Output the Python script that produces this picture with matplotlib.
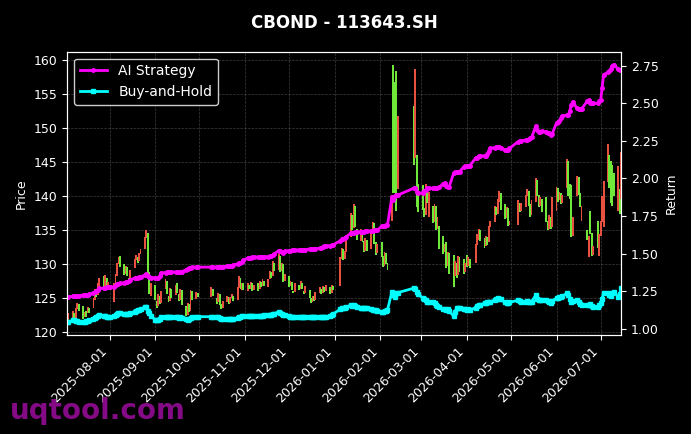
import matplotlib
matplotlib.use("Agg")
import matplotlib.pyplot as plt
import matplotlib.dates as mdates
import numpy as np
import pandas as pd

# ---- trading calendar (SH exchange, 2025-07-03 .. 2026-07-15) ----
holidays = [
    "2025-10-01", "2025-10-02", "2025-10-03", "2025-10-06", "2025-10-07", "2025-10-08",
    "2026-01-01", "2026-01-02",
    "2026-02-16", "2026-02-17", "2026-02-18", "2026-02-19", "2026-02-20", "2026-02-23",
    "2026-04-06", "2026-05-01", "2026-05-04", "2026-05-05", "2026-06-19",
]

# ---- daily open / close (one row per month) ----
open_px = [
    122.6, 121.6, 122.0, 122.8, 122.0, 123.4, 124.1, 123.8, 122.2, 123.2, 122.8, 123.6, 123.5, 124.8, 126.0, 125.5, 126.8, 128.2, 126.6, 128.0, 126.2,
    127.0, 124.5, 127.2, 128.3, 130.0, 131.2, 130.0, 128.6, 129.6, 128.0, 127.8, 129.4, 130.6, 131.0, 130.4, 131.5, 132.2, 133.8, 134.6, 128.8, 125.4,
    127.0, 124.6, 123.8, 125.4, 124.3, 126.4, 127.5, 125.4, 124.6, 126.3, 125.5, 127.2, 125.6, 124.8, 126.2, 123.8, 122.6, 124.2, 123.2, 126.0, 124.9, 125.8,
    125.2, 126.4, 125.0, 124.5, 125.6, 124.1, 123.6, 124.4, 125.2, 124.3, 125.0, 125.4, 124.8, 126.5, 128.0, 126.2, 127.2,
    126.0, 127.0, 126.4, 127.2, 126.2, 127.2, 126.3, 127.4, 126.8, 127.6, 126.6, 127.8, 128.8, 128.2, 130.2, 129.2, 131.2, 129.0, 130.0, 127.6,
    128.3, 126.8, 127.4, 126.0, 125.9, 127.0, 126.4, 127.3, 126.1, 125.8, 126.2, 125.1, 124.5, 125.3, 124.8, 125.8, 126.4, 125.7, 126.6, 126.0, 126.6, 125.8, 126.8,
    126.8, 130.8, 132.2, 130.8, 131.8, 134.0, 137.2, 135.3, 138.5, 135.2, 133.4, 135.0, 133.4, 132.0, 133.6, 132.2, 134.6, 136.0, 133.2, 131.6,
    133.2, 131.2, 129.8, 131.6, 130.2, 136.4, 159.2, 156.8, 158.3, 141.0, 153.2, 145.6, 146.0, 141.8,
    141.6, 138.2, 137.2, 141.4, 137.0, 138.6, 136.2, 138.6, 135.2, 135.6, 134.2, 131.8, 133.2, 129.8, 131.6, 131.4, 128.2, 130.2, 128.4, 131.0, 130.8, 128.8,
    131.4, 129.8, 130.8, 130.2, 132.8, 133.6, 135.0, 133.8, 132.6, 134.0, 133.2, 135.4, 136.2, 138.4, 137.4, 139.2, 140.4, 138.8, 136.8, 138.2, 135.8,
    135.8, 139.0, 137.8, 138.4, 140.0, 140.8, 138.8, 137.2, 139.2, 142.4, 140.2, 138.6, 139.6, 139.8, 136.4, 135.2, 137.0, 135.4,
    137.8, 141.2, 139.4, 140.4, 139.0, 141.2, 145.2, 141.8, 141.6, 134.2, 140.0, 142.8, 140.4, 136.4, 135.0, 131.0, 137.8, 134.6, 131.4, 136.4, 131.2,
    134.2, 136.2, 135.4, 142.0, 146.0, 145.2, 144.6, 143.4, 137.8, 141.0, 139.6,
]
close_px = [
    121.8, 122.9, 123.1, 121.7, 123.6, 124.3, 123.2, 121.9, 123.0, 122.3, 123.7, 122.9, 125.0, 126.3, 125.2, 127.2, 128.0, 126.4, 128.4, 126.5, 127.4,
    126.2, 127.3, 128.5, 130.2, 131.0, 129.6, 128.4, 129.8, 128.2, 127.6, 129.2, 130.8, 131.3, 130.2, 131.6, 132.3, 134.0, 135.0, 128.5, 125.6, 127.3,
    124.8, 123.6, 125.6, 124.2, 126.0, 127.8, 125.6, 124.5, 126.5, 125.1, 127.0, 125.8, 124.6, 126.4, 124.0, 122.4, 124.3, 123.0, 126.2, 124.8, 125.9, 125.2,
    126.6, 125.3, 124.2, 125.8, 124.0, 123.4, 124.6, 125.4, 124.1, 125.2, 125.6, 124.6, 126.6, 128.2, 126.4, 127.3, 126.2,
    127.2, 126.3, 127.4, 126.0, 127.0, 126.1, 127.6, 126.6, 127.8, 126.8, 127.9, 129.0, 128.0, 130.4, 129.0, 131.5, 128.8, 130.2, 127.4, 128.5,
    126.6, 127.6, 126.2, 125.8, 127.2, 126.2, 127.5, 126.3, 125.6, 126.8, 125.0, 124.3, 125.4, 124.6, 125.9, 126.6, 125.6, 126.8, 125.9, 126.9, 125.6, 127.0, 126.2,
    131.0, 132.4, 130.6, 132.0, 133.6, 137.5, 135.0, 138.8, 135.5, 133.6, 135.2, 133.2, 131.8, 133.8, 132.0, 134.8, 136.2, 133.0, 131.4, 133.0,
    131.0, 129.6, 131.8, 130.0, 129.2, 140.2, 140.5, 140.4, 137.8, 151.8, 144.6, 158.6, 138.4, 137.6,
    138.0, 137.0, 141.8, 139.0, 140.6, 136.0, 138.8, 135.0, 137.0, 132.2, 131.5, 133.0, 129.5, 131.8, 128.6, 126.6, 130.4, 128.0, 131.2, 128.8, 128.6, 130.2,
    129.6, 131.0, 129.4, 133.0, 134.4, 135.2, 133.4, 132.4, 134.2, 132.8, 135.6, 136.4, 138.6, 137.2, 139.6, 140.8, 138.0, 136.6, 138.4, 135.6, 136.4,
    139.4, 137.6, 139.0, 140.2, 141.0, 138.6, 137.0, 139.4, 142.6, 140.0, 138.4, 139.8, 137.6, 136.2, 135.0, 137.2, 135.2, 139.8,
    141.4, 139.2, 140.6, 138.8, 140.2, 145.4, 140.0, 139.6, 134.0, 137.0, 143.0, 140.2, 138.4, 138.6, 133.6, 134.2, 134.4, 131.2, 132.6, 132.4, 134.4,
    136.4, 140.0, 142.2, 147.6, 141.2, 139.0, 138.6, 140.0, 144.4, 137.4, 146.4,
]

# ---- cumulative return curves ----
strategy_ret = [
    1.213, 1.213, 1.215, 1.215, 1.218, 1.218, 1.220, 1.222, 1.222, 1.224, 1.224, 1.228, 1.240, 1.246, 1.252, 1.260, 1.268, 1.270, 1.272, 1.275, 1.277,
    1.277, 1.280, 1.288, 1.296, 1.300, 1.302, 1.306, 1.310, 1.312, 1.318, 1.326, 1.336, 1.338, 1.340, 1.344, 1.346, 1.356, 1.364, 1.352, 1.344, 1.340,
    1.340, 1.337, 1.337, 1.350, 1.370, 1.374, 1.376, 1.377, 1.377, 1.377, 1.377, 1.377, 1.378, 1.378, 1.380, 1.392, 1.400, 1.402, 1.405, 1.408, 1.410, 1.410,
    1.410, 1.410, 1.410, 1.410, 1.411, 1.411, 1.412, 1.418, 1.420, 1.420, 1.420, 1.422, 1.432, 1.440, 1.440, 1.445, 1.455,
    1.470, 1.472, 1.472, 1.474, 1.475, 1.476, 1.476, 1.477, 1.478, 1.478, 1.480, 1.482, 1.485, 1.490, 1.498, 1.520, 1.518, 1.510, 1.505, 1.515,
    1.520, 1.520, 1.521, 1.522, 1.522, 1.524, 1.525, 1.525, 1.526, 1.527, 1.528, 1.530, 1.531, 1.532, 1.533, 1.535, 1.540, 1.545, 1.548, 1.550, 1.553, 1.556, 1.558,
    1.585, 1.595, 1.600, 1.605, 1.612, 1.636, 1.638, 1.640, 1.642, 1.645, 1.645, 1.646, 1.646, 1.648, 1.650, 1.650, 1.652, 1.654, 1.655, 1.656,
    1.680, 1.680, 1.682, 1.688, 1.690, 1.878, 1.855, 1.880, 1.889, 1.889, 1.935, 1.935, 1.910, 1.900,
    1.905, 1.915, 1.925, 1.935, 1.935, 1.935, 1.936, 1.937, 1.938, 1.940, 1.965, 1.970, 1.950, 1.940, 1.945, 2.035, 2.040, 2.040, 2.042, 2.045, 2.078, 2.080,
    2.080, 2.082, 2.085, 2.135, 2.138, 2.148, 2.150, 2.150, 2.152, 2.160, 2.185, 2.200, 2.205, 2.210, 2.212, 2.210, 2.205, 2.190, 2.188, 2.192, 2.200,
    2.245, 2.250, 2.250, 2.255, 2.258, 2.262, 2.268, 2.272, 2.350, 2.320, 2.310, 2.310, 2.312, 2.310, 2.305, 2.300, 2.290, 2.295,
    2.370, 2.372, 2.380, 2.400, 2.415, 2.420, 2.420, 2.450, 2.487, 2.510, 2.465, 2.460, 2.460, 2.462, 2.515, 2.520, 2.500, 2.500, 2.500, 2.500, 2.515,
    2.520, 2.600, 2.690, 2.705, 2.712, 2.730, 2.750, 2.757, 2.725, 2.720, 2.720,
]
buyhold_ret = [
    1.044, 1.046, 1.055, 1.058, 1.052, 1.050, 1.048, 1.046, 1.047, 1.050, 1.052, 1.055, 1.068, 1.072, 1.078, 1.084, 1.090, 1.086, 1.084, 1.080, 1.080,
    1.080, 1.082, 1.090, 1.098, 1.104, 1.102, 1.098, 1.096, 1.095, 1.098, 1.104, 1.113, 1.118, 1.122, 1.126, 1.130, 1.145, 1.146, 1.120, 1.104, 1.085,
    1.060, 1.058, 1.058, 1.066, 1.075, 1.080, 1.078, 1.075, 1.075, 1.076, 1.075, 1.076, 1.074, 1.075, 1.074, 1.062, 1.058, 1.062, 1.070, 1.076, 1.080, 1.080,
    1.080, 1.080, 1.078, 1.075, 1.070, 1.066, 1.064, 1.064, 1.062, 1.064, 1.066, 1.064, 1.070, 1.078, 1.080, 1.082, 1.082,
    1.084, 1.085, 1.086, 1.085, 1.086, 1.087, 1.087, 1.088, 1.088, 1.089, 1.090, 1.090, 1.092, 1.095, 1.100, 1.113, 1.105, 1.095, 1.090, 1.090,
    1.085, 1.080, 1.078, 1.078, 1.078, 1.078, 1.079, 1.078, 1.078, 1.078, 1.077, 1.078, 1.078, 1.077, 1.078, 1.078, 1.079, 1.078, 1.080, 1.080, 1.085, 1.090, 1.098,
    1.130, 1.137, 1.135, 1.140, 1.145, 1.157, 1.150, 1.155, 1.148, 1.142, 1.140, 1.138, 1.136, 1.140, 1.138, 1.130, 1.126, 1.124, 1.122, 1.120,
    1.113, 1.112, 1.115, 1.118, 1.125, 1.246, 1.225, 1.213, 1.235, 1.240, 1.270, 1.262, 1.245, 1.230,
    1.204, 1.195, 1.190, 1.180, 1.180, 1.175, 1.170, 1.160, 1.150, 1.145, 1.130, 1.128, 1.125, 1.128, 1.118, 1.084, 1.110, 1.140, 1.136, 1.135, 1.130, 1.128,
    1.126, 1.128, 1.125, 1.140, 1.150, 1.160, 1.158, 1.170, 1.172, 1.175, 1.178, 1.180, 1.190, 1.198, 1.204, 1.200, 1.195, 1.175, 1.170, 1.168, 1.175,
    1.190, 1.185, 1.178, 1.180, 1.185, 1.180, 1.178, 1.180, 1.224, 1.200, 1.190, 1.190, 1.188, 1.190, 1.186, 1.180, 1.172, 1.185,
    1.204, 1.206, 1.208, 1.210, 1.215, 1.237, 1.225, 1.200, 1.180, 1.186, 1.190, 1.175, 1.165, 1.157, 1.157, 1.158, 1.165, 1.150, 1.146, 1.146, 1.160,
    1.170, 1.200, 1.237, 1.237, 1.225, 1.220, 1.235, 1.246, 1.210, 1.230, 1.270,
]

dates = pd.bdate_range("2025-07-03", "2026-07-15")
dates = dates[~dates.isin(pd.to_datetime(holidays))]

df = pd.DataFrame({
    "open": open_px,
    "close": close_px,
    "strategy": strategy_ret,
    "buyhold": buyhold_ret,
}, index=dates)

UP = "#e8503f"    # red = up (CN convention)
DOWN = "#6fe83a"  # green = down
FG = "white"

fig = plt.figure(figsize=(6.91, 4.34), dpi=100, facecolor="black")
ax = fig.add_axes([0.097, 0.228, 0.802, 0.653])
ax.set_facecolor("black")

# candles (bodies only, thin)
lo = np.minimum(df["open"], df["close"])
height = np.maximum(np.abs(df["close"] - df["open"]), 0.3)
colors = np.where(df["close"] >= df["open"], UP, DOWN)
ax.bar(df.index, height, bottom=lo, width=1.3, color=colors, linewidth=0, zorder=2)

ax.set_ylim(119.6, 161.2)
ax.set_xlim(df.index[0], df.index[-1])
ax.set_ylabel("Price", color=FG, fontsize=9)
ax.grid(True, color="#888888", linestyle="--", linewidth=0.5, alpha=0.45)
ax.set_axisbelow(True)

ax.xaxis.set_major_locator(mdates.MonthLocator())
ax.xaxis.set_major_formatter(mdates.DateFormatter("%Y-%m-%d"))
plt.setp(ax.get_xticklabels(), rotation=45, ha="right")

ax2 = ax.twinx()
ax2.plot(df.index, df["strategy"], color="magenta", linewidth=2, marker="o",
         markersize=2.5, label="AI Strategy")
ax2.plot(df.index, df["buyhold"], color="cyan", linewidth=2, marker="s",
         markersize=2.5, label="Buy-and-Hold")
ax2.set_ylim(0.958, 2.843)
ax2.set_ylabel("Return", color=FG, fontsize=9)

for a in (ax, ax2):
    a.tick_params(colors=FG, labelsize=9)
    for sp in a.spines.values():
        sp.set_color(FG)

leg = ax2.legend(loc="upper left", fontsize=10, facecolor="black", edgecolor="#cccccc",
                 framealpha=1.0)
for t in leg.get_texts():
    t.set_color(FG)

ax.set_title("CBOND - 113643.SH", color=FG, fontsize=12, fontweight="bold", pad=17)

# watermark
fig.text(0.014, 0.035, "uqtool.com", color="#850a85", fontsize=20, fontweight="bold",
         zorder=0)

fig.savefig("out.png", dpi=100, facecolor=fig.get_facecolor())
